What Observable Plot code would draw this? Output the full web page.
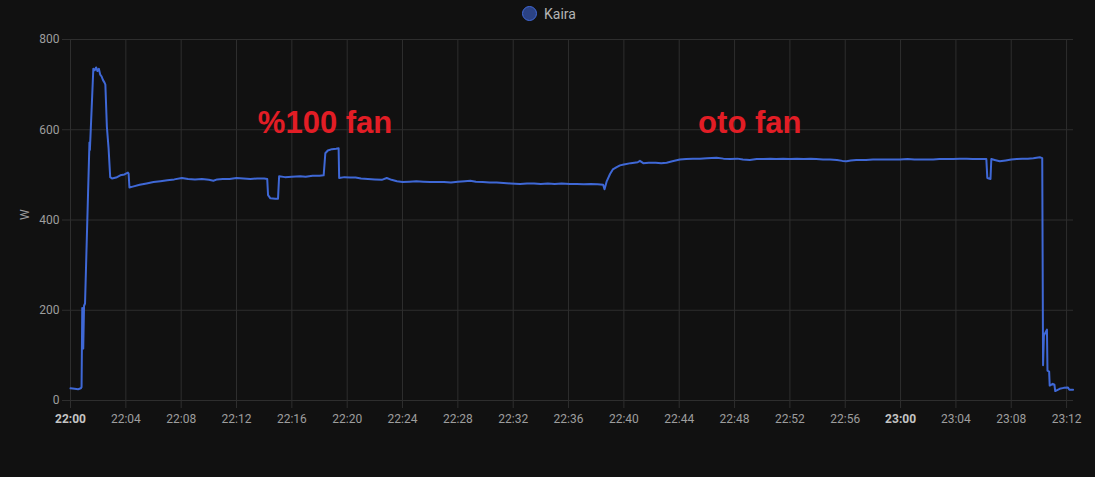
<!DOCTYPE html>
<html><head><meta charset="utf-8">
<script src="https://cdn.jsdelivr.net/npm/d3@7"></script>
<script src="https://cdn.jsdelivr.net/npm/@observablehq/plot@0.6"></script>
<style>
html,body{margin:0;padding:0;background:#111111;}
#legend{height:30px;position:relative;font-family:Roboto,sans-serif;}
#legend .dot{position:absolute;left:522px;top:6px;width:13px;height:13px;border-radius:50%;background:#2b4284;border:1.5px solid #4169d8;}
#legend .lbl{position:absolute;left:544px;top:5px;font-size:14px;color:#b4b4b4;line-height:18px;}
</style></head><body>
<div id="legend"><span class="dot"></span><span class="lbl">Kaira</span></div>
<div id="chart"></div>
<script>
const seriesName = "Kaira";
const minutes = [0.00,0.30,0.55,0.75,0.80,0.85,0.92,0.98,1.05,1.37,1.40,1.45,1.65,1.75,1.85,1.95,2.05,2.15,2.25,2.35,2.45,2.52,2.63,2.75,2.87,3.0,3.3,3.6,3.9,4.15,4.20,4.26,4.5,5.0,5.5,6.0,6.5,7.0,7.5,8.05,8.5,9.0,9.5,10.0,10.33,10.6,11.0,11.5,12.0,12.5,13.0,13.5,14.0,14.22,14.28,14.45,14.8,15.0,15.08,15.5,16.0,16.6,17.0,17.5,18.0,18.3,18.42,18.6,18.9,19.2,19.38,19.42,19.8,20.2,20.6,21.0,21.5,22.0,22.5,22.86,23.2,23.6,24.0,24.5,25.0,25.5,26.0,26.5,27.0,27.5,28.0,28.5,28.9,29.3,29.8,30.3,30.8,31.3,31.8,32.5,33.0,33.5,34.0,34.5,35.0,35.5,36.1,36.6,37.1,37.6,38.1,38.5,38.6,38.75,39.0,39.2,39.48,39.72,40.0,40.5,41.0,41.16,41.4,41.8,42.3,42.7,43.09,43.5,44.05,44.5,45.0,45.5,46.0,46.7,47.2,47.7,48.2,48.6,49.1,49.6,50.1,50.6,51.0,51.5,52.0,52.5,53.0,53.5,53.9,54.4,54.9,55.4,55.8,56.1,56.4,56.8,57.2,57.5,58.0,58.5,59.0,59.5,59.95,60.5,61.0,61.5,62.0,62.36,62.8,63.3,63.8,64.3,64.77,65.2,65.7,66.2,66.27,66.5,66.56,66.8,67.17,67.6,68.0,68.4,68.8,69.2,69.6,70.06,70.24,70.3,70.36,70.58,70.62,70.74,70.78,71.0,71.12,71.18,71.5,71.8,72.1,72.2,72.47];
const watts = [27,26,25,27,30,205,115,210,215,572,555,590,735,732,738,730,735,722,718,710,705,700,606,560,495,492,494,499,501,505,503,472,474,478,481,484,486,488,490,493,491,490,491,489,487,490,491,491,493,492,491,492,492,491,455,448,447,447,497,495,496,497,496,498,498,499,548,554,557,558,559,493,495,494,494,492,491,490,489,493,489,486,484,485,486,485,484,484,484,483,485,486,487,485,484,483,483,482,481,480,481,481,480,481,480,481,480,480,479,480,479,478,468,485,502,512,517,521,523,526,528,531,526,527,527,526,527,530,534,535,536,536,537,538,536,535,536,534,533,535,535,536,535,536,535,536,535,536,535,534,534,533,531,530,532,533,533,533,534,534,534,534,534,535,534,534,534,534,535,535,535,536,536,535,535,535,493,491,535,533,530,532,534,535,536,536,537,539,537,78,144,157,66,64,33,37,35,21,26,28,29,24,24];
const tickLabels = ["22:00","22:04","22:08","22:12","22:16","22:20","22:24","22:28","22:32","22:36","22:40","22:44","22:48","22:52","22:56","23:00","23:04","23:08","23:12"];
const yTicks = [0,200,400,600,800];
const annotationLabels = ["%100 fan","oto fan"];
const annotationMinutes = [18.4,49.1];
const annotationWatts = [615,615];

const base = new Date(2024,0,1,22,0,0);
const toDate = m => new Date(base.getTime() + m*60000);
const parseHM = s => { const [h,m] = s.split(":").map(Number); return new Date(2024,0,1,h,m,0); };
const data = minutes.map((m,i)=>({time: toDate(m), w: watts[i]}));
const annotations = annotationLabels.map((l,i)=>({label:l, time: toDate(annotationMinutes[i]), w: annotationWatts[i]}));
const tickDates = tickLabels.map(parseHM);
const grid = "#2e2e2e";

const plot = Plot.plot({
  width:1095, height:447,
  marginLeft:70, marginRight:22, marginTop:9, marginBottom:77,
  style:{background:"#111111", color:"#9e9e9e", fontFamily:"Roboto, sans-serif", fontSize:"12px"},
  x:{type:"time", domain:[toDate(0), toDate(72.5)], label:null},
  y:{domain:[0,800], label:null},
  marks:[
    Plot.gridX(tickDates, {stroke:grid, strokeOpacity:1}),
    Plot.gridY(yTicks, {stroke:grid, strokeOpacity:1}),
    Plot.axisX(tickDates, {tickSize:8, stroke:grid, strokeOpacity:1, tickPadding:6, tickFormat: d3.timeFormat("%H:%M"), fill:"#9e9e9e", label:null}),
    Plot.axisY(yTicks, {tickSize:8, stroke:grid, strokeOpacity:1, tickPadding:3, fill:"#9e9e9e", label:null}),
    Plot.text(["W"], {frameAnchor:"left", dx:-45, rotate:-90, fill:"#9e9e9e", fontSize:12}),
    Plot.lineY(data, {x:"time", y:"w", stroke:"#3f68d6", strokeWidth:2}),
    Plot.text(annotations, {x:"time", y:"w", text:"label", fill:"#e21d25", fontSize:31, fontWeight:"bold", fontFamily:"Liberation Sans, Arial, sans-serif", textAnchor:"middle"})
  ]
});
plot.querySelectorAll("text").forEach(t=>{
  if (t.textContent === "22:00" || t.textContent === "23:00") { t.setAttribute("font-weight","bold"); t.setAttribute("fill","#c4c4c4"); }
});
document.getElementById("chart").appendChild(plot);
</script>
</body></html>
